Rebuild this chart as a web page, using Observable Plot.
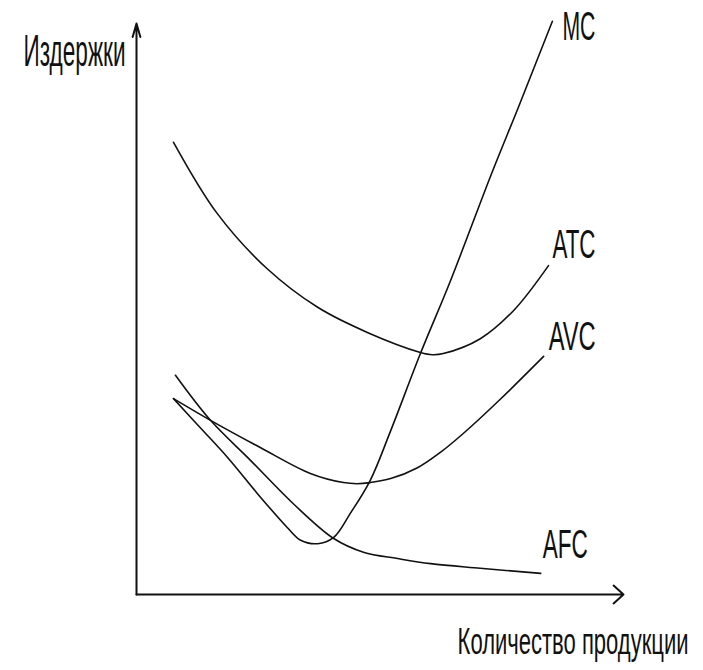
<!DOCTYPE html>
<html>
<head>
<meta charset="utf-8">
<script src="https://cdn.jsdelivr.net/npm/d3@7"></script>
<script src="https://cdn.jsdelivr.net/npm/@observablehq/plot@0.6"></script>
<style>
  html, body { margin: 0; padding: 0; background: #fff; }
  #chart svg { display: block; background: #fff; }
</style>
</head>
<body>
<div id="chart"></div>
<script>
// Axis titles
const yTitle = "Издержки";
const xTitle = "Количество продукции";

// Curve names
const curveNames = ["MC", "ATC", "AVC", "AFC"];

// Quantity (0–100) and cost (0–100)
const mcQ    = [7.6, 13.1, 18.7, 25.5, 31.0, 33.7, 37.2, 40.5, 43.9, 48.0, 52.2, 58.3, 64.5, 72.9, 78.4, 85.4];
const mcCost = [34.3, 29.2, 24.0, 17.0, 11.7, 9.5, 8.9, 10.0, 14.2, 20.0, 28.7, 42.2, 55.0, 73.7, 85.3, 100.4];

const atcQ    = [7.6, 16.6, 26.9, 37.2, 47.4, 58.3, 60.8, 63.0, 70.6, 77.4, 84.6];
const atcCost = [79.2, 66.7, 57.0, 50.3, 45.9, 42.4, 42.0, 42.2, 44.8, 49.7, 57.6];

const avcQ    = [7.6, 15.2, 25.5, 35.7, 42.5, 45.3, 48.0, 52.2, 57.7, 62.4, 67.1, 74.7, 83.6];
const avcCost = [34.3, 30.5, 25.7, 21.2, 19.6, 19.4, 19.6, 20.3, 22.2, 24.9, 28.2, 34.2, 41.7];

const afcQ    = [8.0, 15.2, 23.4, 32.2, 40.5, 46.6, 53.6, 60.4, 70.6, 83.0];
const afcCost = [38.4, 30.5, 23.5, 15.9, 9.8, 7.4, 6.3, 5.4, 4.6, 3.7];

const seriesQ = [mcQ, atcQ, avcQ, afcQ];
const seriesCost = [mcCost, atcCost, avcCost, afcCost];

// Build tidy table
const points = [];
curveNames.forEach((name, k) => {
  seriesQ[k].forEach((q, i) => points.push({curve: name, q, cost: seriesCost[k][i]}));
});
const endOf = (name) => {
  const k = curveNames.indexOf(name);
  const n = seriesQ[k].length - 1;
  return [{curve: name, q: seriesQ[k][n], cost: seriesCost[k][n]}];
};

// Styles (not data)
const labelOffsets = {MC: [10, 19], ATC: [4, -8], AVC: [5, -6], AFC: [2, -15]};
const textWidths = {"MC": 33, "ATC": 43, "AVC": 47, "AFC": 45};
textWidths[yTitle] = 102;
textWidths[xTitle] = 231;
const font = "'Liberation Sans Narrow', 'Liberation Sans', Arial, sans-serif";

const labelMarks = curveNames.map(name => Plot.text(endOf(name), {
  x: "q", y: "cost", text: "curve",
  dx: labelOffsets[name][0], dy: labelOffsets[name][1],
  textAnchor: "start", lineAnchor: "bottom",
  fontSize: 41, fontFamily: font, fill: "#111"
}));

const chart = Plot.plot({
  width: 703,
  height: 670,
  marginLeft: 136,
  marginRight: 80,
  marginTop: 23,
  marginBottom: 76,
  x: {domain: [0, 100], axis: null},
  y: {domain: [0, 100], axis: null},
  marks: [
    Plot.arrow([{x1: 0, y1: 0, x2: 0, y2: 100}], {
      x1: "x1", y1: "y1", x2: "x2", y2: "y2",
      stroke: "#111", strokeWidth: 2, headLength: 10.5, headAngle: 32
    }),
    Plot.arrow([{x1: 0, y1: 0, x2: 100, y2: 0}], {
      x1: "x1", y1: "y1", x2: "x2", y2: "y2",
      stroke: "#111", strokeWidth: 2, headLength: 10, headAngle: 84
    }),
    Plot.line(points, {
      x: "q", y: "cost", z: "curve",
      stroke: "#111", strokeWidth: 1.6, curve: "catmull-rom"
    }),
    ...labelMarks,
    Plot.text([yTitle], {
      text: d => d, frameAnchor: "top-left",
      dx: -11, dy: 42, textAnchor: "end", lineAnchor: "bottom",
      fontSize: 44, fontFamily: font, fill: "#111"
    }),
    Plot.text([xTitle], {
      text: d => d, frameAnchor: "bottom-right",
      dx: 65, dy: 59, textAnchor: "end", lineAnchor: "bottom",
      fontSize: 37, fontFamily: font, fill: "#111"
    })
  ]
});

document.getElementById("chart").appendChild(chart);

// Condense texts horizontally to the reference widths (scale about the anchor)
chart.querySelectorAll("text").forEach(t => {
  const w = textWidths[t.textContent];
  if (!w) return;
  const len = t.getComputedTextLength();
  if (!len) return;
  const tr = t.getAttribute("transform") || "";
  t.setAttribute("transform", `${tr} scale(${(w / len).toFixed(4)},1)`.trim());
});
</script>
</body>
</html>
